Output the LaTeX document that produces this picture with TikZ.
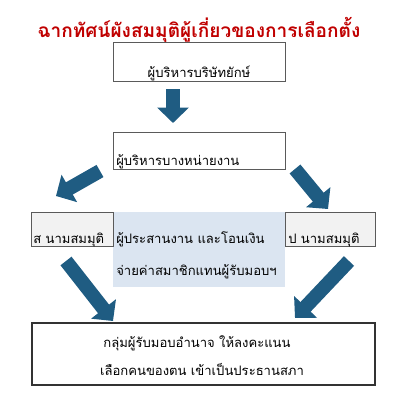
\documentclass[tikz,border=0pt]{standalone}
\usepackage{fontspec}
\newfontfamily\thaifont[Script=Thai]{Loma}
\usetikzlibrary{arrows.meta}
\definecolor{titlered}{HTML}{C00000}
\definecolor{arrowblue}{HTML}{1F5C82}
\definecolor{boxgray}{HTML}{5A5A5A}
\definecolor{lightgray}{HTML}{F2F2F2}
\definecolor{lightblue}{HTML}{DBE5F1}
\tikzset{
  box/.style={draw=boxgray, line width=0.65pt, inner sep=0pt},
  txt/.style={font=\thaifont\fontsize{9.8}{11}\selectfont, inner sep=0pt},
  fatarrow/.style={draw=arrowblue, line width=10.5pt, -{Triangle[length=11.5pt,width=23pt]}},
}
\begin{document}
\begin{tikzpicture}[x=0.75pt,y=-0.75pt]
\useasboundingbox (0,0) rectangle (400,400);
% title
\node[font=\thaifont\bfseries\fontsize{14.3}{16}\selectfont, text=titlered, anchor=base, inner sep=0pt] (title) at (199,37.5) {ฉากทัศน์ผังสมมุติผู้เกี่ยวของการเลือกตั้ง};
% boxes
\node[box, fill=white, minimum width=129pt, minimum height=29.25pt] (b1) at (199,61.5) {};
\node[box, fill=white, minimum width=129pt, minimum height=27.75pt] (b2) at (199,150.5) {};
\node[box, fill=lightblue, draw=none, minimum width=129pt, minimum height=56.25pt] (b3) at (199,249.5) {};
\node[box, fill=lightgray, minimum width=61.5pt, minimum height=25.5pt] (bl) at (72,229) {};
\node[box, fill=lightgray, minimum width=67.5pt, minimum height=25.5pt] (br) at (330,229) {};
\node[box, fill=white, draw=black!80, line width=0.8pt, minimum width=257.25pt, minimum height=46.5pt] (b4) at (203.5,354) {};
% texts
\node[txt, anchor=base] (t1) at (199,77) {ผู้บริหารบริษัทยักษ์};
\node[txt, anchor=base west] (t2) at (116,165) {ผู้บริหารบางหน่ายงาน};
\node[txt, anchor=base west] (tl) at (33,243) {ส นามสมมุติ};
\node[txt, anchor=base west] (t3a) at (116,243) {ผู้ประสานงาน และโอนเงิน};
\node[txt, anchor=base west] (t3b) at (116,275) {จ่ายค่าสมาชิกแทนผู้รับมอบฯ};
\node[txt, anchor=base west] (tr) at (288,243) {ป นามสมมุติ};
\node[txt, anchor=base] (t4a) at (197,347) {กลุ่มผู้รับมอบอำนาจ ให้ลงคะแนน};
\node[txt, anchor=base] (t4b) at (202,375) {เลือกคนของตน เข้าเป็นประธานสภา};
% arrow ends
\coordinate (a1s) at (173,89);
\coordinate (a1e) at (173,123);
\coordinate (a2s) at (100,171);
\coordinate (a2e) at (56,196);
\coordinate (a3s) at (295,169);
\coordinate (a3e) at (328,209);
\coordinate (a4s) at (66,261);
\coordinate (a4e) at (113,321);
\coordinate (a5s) at (349,261);
\coordinate (a5e) at (295,318);
\draw[fatarrow] (a1s) -- (a1e);
\draw[fatarrow] (a2s) -- (a2e);
\draw[fatarrow] (a3s) -- (a3e);
\draw[fatarrow] (a4s) -- (a4e);
\draw[fatarrow] (a5s) -- (a5e);
\end{tikzpicture}
\end{document}
